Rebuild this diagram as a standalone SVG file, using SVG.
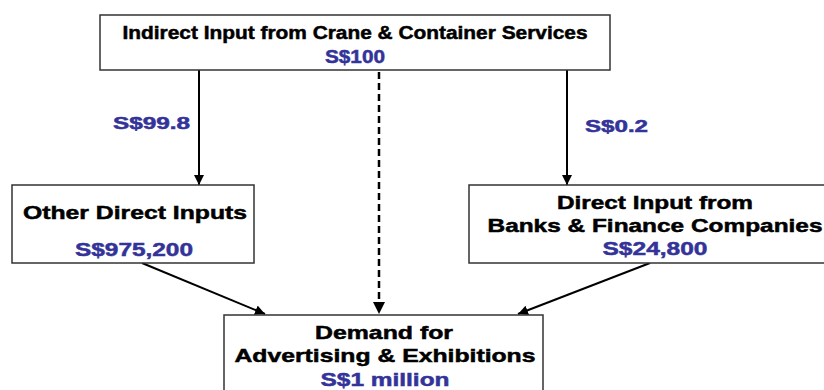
<svg xmlns="http://www.w3.org/2000/svg" width="824" height="390" viewBox="0 0 824 390">
<style>
.box{fill:#fff;stroke:#333;stroke-width:1.5}
.t{font-family:"Liberation Sans",Arial,sans-serif;font-weight:bold;font-size:19px;text-anchor:middle;fill:#000;stroke:#000;stroke-width:0.5}
.v{fill:#333399;stroke:#333399}
.l{font-family:"Liberation Sans",Arial,sans-serif;font-weight:bold;font-size:16px;fill:#333399;stroke:#333399;stroke-width:0.5}
.c{stroke:#000;stroke-width:2;fill:none;marker-end:url(#ah)}
.d{stroke-width:2.5;stroke-dasharray:7,4}
</style>
<defs>
<marker id="ah" viewBox="0 0 10 10" refX="10" refY="5" markerWidth="5" markerHeight="5" orient="auto" markerUnits="strokeWidth">
<path d="M0,0 L10,5 L0,10 z" fill="#000"/>
</marker>
</defs>
<rect width="824" height="390" fill="#fff"/>
<g id="connectors">
<line class="c" x1="199" y1="67" x2="199" y2="185"/>
<line class="c" x1="567" y1="67" x2="567" y2="185"/>
<line class="c d" x1="379" y1="72" x2="379" y2="314"/>
<line class="c" x1="142" y1="263" x2="265" y2="314"/>
<line class="c" x1="650" y1="263" x2="518" y2="314"/>
<text class="l" x="113" y="129" textLength="77" lengthAdjust="spacingAndGlyphs">S$99.8</text>
<text class="l" x="585" y="132" textLength="63" lengthAdjust="spacingAndGlyphs">S$0.2</text>
</g>
<g id="top">
<rect class="box" x="100" y="15" width="510" height="55"/>
<text class="t" x="355" y="39" textLength="465" lengthAdjust="spacingAndGlyphs">Indirect Input from Crane &amp; Container Services</text>
<text class="t v" x="355" y="63" textLength="60" lengthAdjust="spacingAndGlyphs">S$100</text>
</g>
<g id="other">
<rect class="box" x="12" y="185" width="242" height="78"/>
<text class="t" x="135" y="219" textLength="224" lengthAdjust="spacingAndGlyphs">Other Direct Inputs</text>
<text class="t v" x="134" y="256" textLength="118" lengthAdjust="spacingAndGlyphs">S$975,200</text>
</g>
<g id="banks">
<rect class="box" x="469" y="185" width="372" height="78"/>
<text class="t" x="655" y="209" textLength="196" lengthAdjust="spacingAndGlyphs">Direct Input from</text>
<text class="t" x="655" y="232" textLength="335" lengthAdjust="spacingAndGlyphs">Banks &amp; Finance Companies</text>
<text class="t v" x="655" y="255" textLength="105" lengthAdjust="spacingAndGlyphs">S$24,800</text>
</g>
<g id="demand">
<rect class="box" x="224" y="315" width="319" height="90"/>
<text class="t" x="384" y="339" textLength="138" lengthAdjust="spacingAndGlyphs">Demand for</text>
<text class="t" x="385" y="362" textLength="301" lengthAdjust="spacingAndGlyphs">Advertising &amp; Exhibitions</text>
<text class="t v" x="385" y="386" textLength="129" lengthAdjust="spacingAndGlyphs">S$1 million</text>
</g>
</svg>
